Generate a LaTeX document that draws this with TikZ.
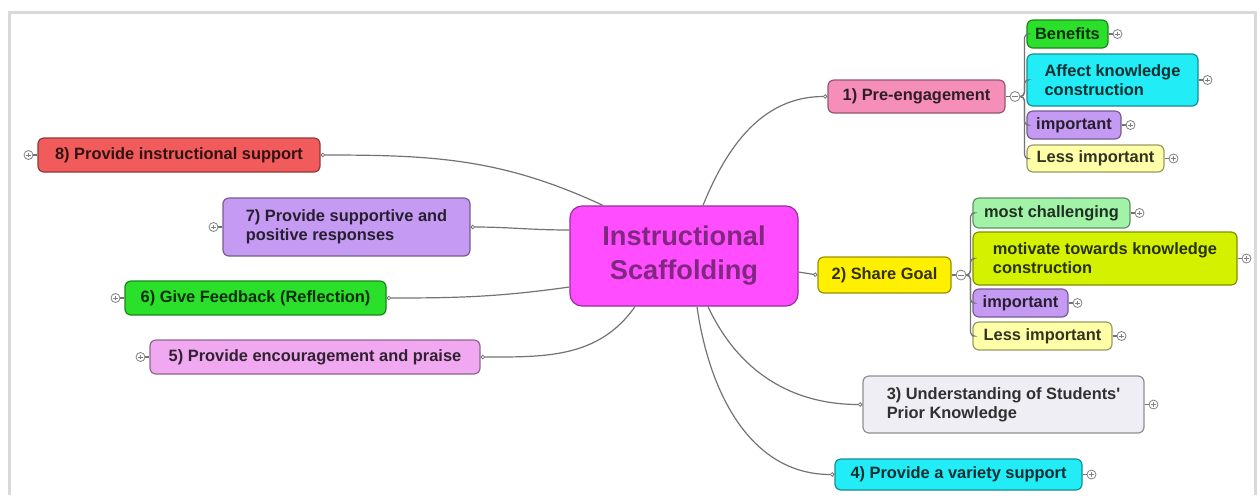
\documentclass[tikz,border=0pt]{standalone}
\usepackage{fontspec}
\setmainfont{Liberation Sans}
\usetikzlibrary{positioning,arrows.meta}
\definecolor{rootpink}{HTML}{FF4DFF}
\definecolor{engagepink}{HTML}{F58FBA}
\definecolor{leafgreen}{HTML}{2BE02B}
\definecolor{leafcyan}{HTML}{22ECF6}
\definecolor{leaflilac}{HTML}{C49AF2}
\definecolor{leafcream}{HTML}{FFFFA8}
\definecolor{goalyellow}{HTML}{FFF000}
\definecolor{leafmint}{HTML}{A2F2A8}
\definecolor{leaflime}{HTML}{D4F200}
\definecolor{priorgray}{HTML}{EEEEF4}
\definecolor{supportred}{HTML}{F25B5B}
\definecolor{praisepink}{HTML}{F0A8F0}

\tikzset{
  topic/.style={draw=#1!60!black, fill=#1, text=#1!20!black, rounded corners=3pt,
    line width=0.6pt, inner sep=0pt, align=left,
    font=\bfseries\fontsize{8.2}{9.6}\selectfont},
  toggle/.style={circle, draw=gray, fill=white, minimum size=4.5pt, inner sep=0pt,
    line width=0.4pt,
    path picture={\draw[gray, line width=0.3pt]
      ([xshift=-1.2pt]path picture bounding box.center) -- ([xshift=1.2pt]path picture bounding box.center)
      ([yshift=-1.2pt]path picture bounding box.center) -- ([yshift=1.2pt]path picture bounding box.center);}},
  togglemin/.style={circle, draw=gray, fill=white, minimum size=5pt, inner sep=0pt,
    line width=0.4pt,
    path picture={\draw[gray, line width=0.3pt]
      ([xshift=-1.3pt]path picture bounding box.center) -- ([xshift=1.3pt]path picture bounding box.center);}},
  link/.style={draw=black!55, line width=0.6pt},
  tolink/.style={link, -{Circle[open, length=2.2pt, line width=0.4pt]}}
}

\begin{document}
\begin{tikzpicture}[x=0.5pt, y=-0.5pt]
  \useasboundingbox (0,0) rectangle (1260,495);
  % frame
  \draw[black!15, line width=1.5pt] (9,495) |- (1255,12) -- (1255,495);

  % root
  \node[topic=rootpink, minimum width=114pt, minimum height=50pt, align=center,
    rounded corners=6pt, text=rootpink!50!black,
    font=\bfseries\fontsize{13.6}{17}\selectfont] (cen) at (684,256)
    {Instructional\\Scaffolding};

  % right side
  \node[topic=engagepink, minimum width=88.5pt, minimum height=16.5pt] (p1) at (916.5,96.5) {1) Pre-engagement};
  \node[topic=leafgreen, minimum width=40.5pt, minimum height=14pt] (b1) at (1067.5,34) {Benefits};
  \node[topic=leafcyan, minimum width=85.5pt, minimum height=26pt] (a1) at (1112.5,80) {Affect knowledge\\construction};
  \node[topic=leaflilac, minimum width=47pt, minimum height=14pt] (i1) at (1074,125) {important};
  \node[topic=leafcream, minimum width=68.5pt, minimum height=13.5pt] (l1) at (1095.5,158.5) {Less important};

  \node[topic=goalyellow, minimum width=66.5pt, minimum height=18pt] (p2) at (884.5,275) {2) Share Goal};
  \node[topic=leafmint, minimum width=78.5pt, minimum height=15pt] (m2) at (1051.5,213) {most challenging};
  \node[topic=leaflime, minimum width=132pt, minimum height=26.5pt] (v2) at (1105,258.5) {motivate towards knowledge\\construction};
  \node[topic=leaflilac, minimum width=47.5pt, minimum height=14pt] (i2) at (1020.5,303) {important};
  \node[topic=leafcream, minimum width=69.5pt, minimum height=14pt] (l2) at (1042.5,336) {Less important};

  \node[topic=priorgray, minimum width=140.5pt, minimum height=28.5pt] (p3) at (1003.5,404.5) {3) Understanding of Students\textquotesingle\\Prior Knowledge};
  \node[topic=leafcyan, minimum width=123.5pt, minimum height=15.5pt] (p4) at (958.5,474.5) {4) Provide a variety support};

  % left side
  \node[topic=supportred, minimum width=141pt, minimum height=17pt] (p8) at (179,155) {8) Provide instructional support};
  \node[topic=leaflilac, minimum width=123.5pt, minimum height=29pt] (p7) at (346.5,227) {7) Provide supportive and\\positive responses};
  \node[topic=leafgreen, minimum width=130.5pt, minimum height=17pt] (p6) at (255.5,298) {6) Give Feedback (Reflection)};
  \node[topic=praisepink, minimum width=165pt, minimum height=17pt] (p5) at (315,357) {5) Provide encouragement and praise};

  % toggles
  \foreach \n in {b1,a1,i1,l1,m2,v2,i2,l2,p3,p4} {
    \node[toggle, right=2pt of \n] (\n-t) {};
    \draw[link] (\n.east) -- (\n-t);
  }
  \foreach \n in {p8,p7,p6,p5} {
    \node[toggle, left=2pt of \n] (\n-t) {};
    \draw[link] (\n.west) -- (\n-t);
  }
  \node[togglemin, right=2pt of p1] (p1-t) {};
  \node[togglemin, right=2pt of p2] (p2-t) {};
  \draw[link] (p1.east) -- (p1-t);
  \draw[link] (p2.east) -- (p2-t);

  % sub branches
  \foreach \n in {b1,a1,i1,l1}
    \draw[link, rounded corners=2pt] (p1-t.east) -- ++(2pt,0) |- (\n.west);
  \foreach \n in {m2,v2,i2,l2}
    \draw[link, rounded corners=2pt] (p2-t.east) -- ++(2pt,0) |- (\n.west);

  % main branches
  \draw[tolink] ([xshift=9.5pt]cen.north) to[out=68, in=180] (p1.west);
  \draw[tolink] ([yshift=-8pt]cen.east) -- (p2.west);
  \draw[tolink] ([xshift=12pt]cen.south) to[out=-65, in=180] (p3.west);
  \draw[tolink] ([xshift=6.5pt]cen.south) to[out=-82, in=180] (p4.west);
  \draw[tolink] ([xshift=-40.5pt]cen.north) to[out=155, in=0] (p8.east);
  \draw[tolink] ([yshift=13pt]cen.west) to[out=180, in=0] (p7.east);
  \draw[tolink] ([yshift=-15.5pt]cen.west) to[out=188, in=0] (p6.east);
  \draw[tolink] ([xshift=-24.5pt]cen.south) to[out=-125, in=0] (p5.east);
\end{tikzpicture}
\end{document}
